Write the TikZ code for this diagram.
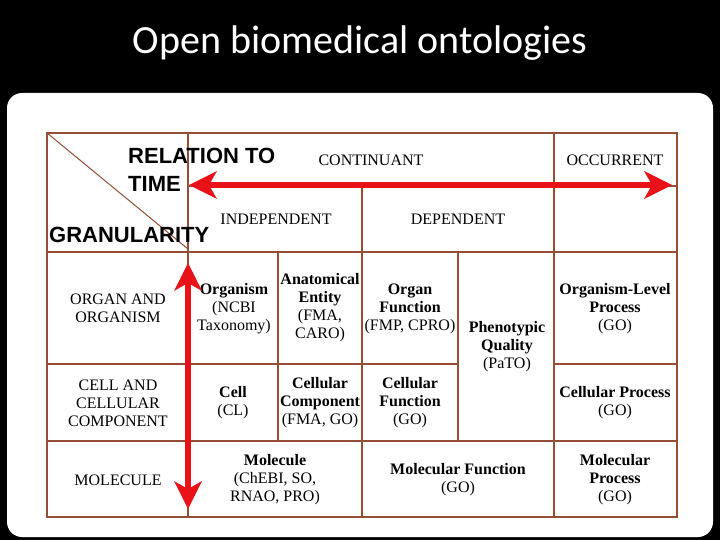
\documentclass[tikz,border=0pt]{standalone}
\usepackage{fontspec}
\setmainfont{Liberation Serif}
\newfontfamily\titlefont{Carlito}
\newfontfamily\headfont{Liberation Sans}
\usetikzlibrary{arrows.meta}
\definecolor{gridc}{RGB}{150,78,52}
\definecolor{arrowred}{RGB}{232,18,24}
\begin{document}
\begin{tikzpicture}[x=1pt,y=-1pt,
  gridline/.style={draw=gridc, line width=1.3pt},
  cell/.style={align=center, font=\fontsize{16}{18}\selectfont, inner sep=0pt},
  head/.style={font=\headfont\bfseries\fontsize{22}{26}\selectfont, inner sep=0pt, anchor=base west},
  redarrow/.style={draw=arrowred, fill=arrowred, line width=6.5pt,
    {Stealth[length=28pt,width=28pt,inset=8pt,line width=0pt]}-{Stealth[length=28pt,width=28pt,inset=8pt,line width=0pt]}}]
\useasboundingbox (0,0) rectangle (720,540);
\fill[black] (0,0) rectangle (720,540);
\node[font=\titlefont\fontsize{40}{46}\selectfont, text=white, anchor=base, inner sep=0pt] (title) at (360,54) {Open biomedical ontologies};
\fill[white, rounded corners=15pt] (7,93) rectangle (713,537);
% grid
\draw[gridline] (47,133) rectangle (677,517);
\draw[gridline] (188,133) -- (188,517);
\draw[gridline] (554,133) -- (554,517);
\draw[gridline] (362,186) -- (362,517);
\draw[gridline] (278,252) -- (278,441);
\draw[gridline] (458,252) -- (458,441);
\draw[gridline] (188,186) -- (677,186);
\draw[gridline] (47,252) -- (677,252);
\draw[gridline] (47,364) -- (458,364);
\draw[gridline] (554,364) -- (677,364);
\draw[gridline] (47,441) -- (677,441);
\draw[draw=gridc, line width=1pt] (47,133) -- (188,249);
% header texts
\node[head] (rel) at (128,164) {RELATION TO};
\node[head] (time) at (128,192) {TIME};
\node[head] (gran) at (49,243) {GRANULARITY};
\node[cell] (cont) at (371,160) {CONTINUANT};
\node[cell] (occ) at (615,160) {OCCURRENT};
\node[cell] (indep) at (276,219) {INDEPENDENT};
\node[cell] (dep) at (458,219) {DEPENDENT};
% row 1
\node[cell] (r1) at (118,308) {ORGAN AND\\ORGANISM};
\node[cell] (org) at (234,309) {\textbf{Organism}\\(NCBI\\Taxonomy)};
\node[cell] (anat) at (320,308) {\textbf{Anatomical}\\\textbf{Entity}\\(FMA,\\CARO)};
\node[cell] (ofun) at (410,309) {\textbf{Organ}\\\textbf{Function}\\(FMP, CPRO)};
\node[cell] (pheno) at (507,347) {\textbf{Phenotypic}\\\textbf{Quality}\\(PaTO)};
\node[cell] (olp) at (615,309) {\textbf{Organism-Level}\\\textbf{Process}\\(GO)};
% row 2
\node[cell] (r2) at (118,403) {CELL AND\\CELLULAR\\COMPONENT};
\node[cell] (cell) at (233,403) {\textbf{Cell}\\(CL)};
\node[cell] (ccomp) at (320,403) {\textbf{Cellular}\\\textbf{Component}\\(FMA, GO)};
\node[cell] (cfun) at (410,403) {\textbf{Cellular}\\\textbf{Function}\\(GO)};
\node[cell] (cproc) at (615,403) {\textbf{Cellular Process}\\(GO)};
% row 3
\node[cell] (r3) at (118,480) {MOLECULE};
\node[cell] (mol) at (275,480) {\textbf{Molecule}\\(ChEBI, SO,\\RNAO, PRO)};
\node[cell] (mfun) at (458,480) {\textbf{Molecular Function}\\(GO)};
\node[cell] (mproc) at (615,480) {\textbf{Molecular}\\\textbf{Process}\\(GO)};
% arrows
\coordinate (tL) at (189,185);
\coordinate (tR) at (672,185);
\coordinate (gT) at (188,263);
\coordinate (gB) at (188,509);
\draw[redarrow] (tL) -- (tR);
\draw[redarrow] (gT) -- (gB);
\end{tikzpicture}
\end{document}
